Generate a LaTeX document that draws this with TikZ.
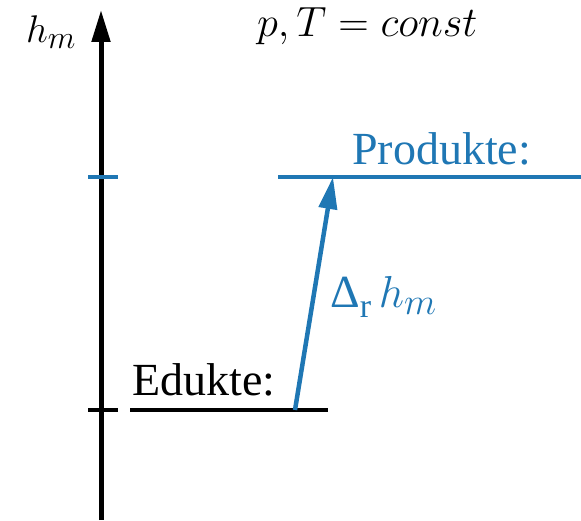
\documentclass[tikz,border=0pt]{standalone}
\usepackage{graphicx}
\usepackage{fontspec}
\setmainfont{Liberation Serif}
\usetikzlibrary{arrows.meta}
\definecolor{reactblue}{RGB}{31,119,180}
\newcommand{\lowidx}[1]{\raisebox{-0.45ex}{\fontsize{34}{40}\selectfont #1}}
\newcommand{\bigmath}[2][1.7]{\scalebox{#1}{\fontsize{24.88}{30}\selectfont$#2$}}

\begin{document}
\begin{tikzpicture}[x=1pt, y=1pt,
    >={Triangle[length=32pt,width=18pt]},
    axisline/.style={line width=5pt},
    level/.style={line width=4.5pt},
    lbl/.style={font=\fontsize{46}{55}\selectfont, inner sep=0pt, anchor=base west},
]
\useasboundingbox (0,0) rectangle (581,520);
% axis
\coordinate (ax0) at (101,0);
\coordinate (ax1) at (101,510);
\draw[axisline, ->] (ax0) -- (ax1);
\node[lbl] (hm) at (26,477) {\bigmath[1.55]{h_m}};
\node[lbl] (cond) at (257,483) {\bigmath{p,T = const}};
% ticks
\coordinate (tb0) at (88,110); \coordinate (tb1) at (118,110);
\coordinate (tp0) at (88,343); \coordinate (tp1) at (118,343);
\draw[level] (tb0) -- (tb1);
\draw[level, reactblue] (tp0) -- (tp1);
% levels
\coordinate (ed0) at (130,110); \coordinate (ed1) at (328,110);
\coordinate (pr0) at (278,343); \coordinate (pr1) at (581,343);
\draw[level] (ed0) -- (ed1);
\draw[level, reactblue] (pr0) -- (pr1);
\node[lbl] (edukte) at (132,125) {Edukte:};
\node[lbl, text=reactblue] (produkte) at (352,355) {Produkte:};
% reaction enthalpy
\coordinate (rs) at (295,110);
\coordinate (re) at (333,343);
\draw[reactblue, line width=4.5pt, ->] (rs) -- (re);
\node[lbl, text=reactblue] (drh) at (330,212) {Δ\lowidx{r}\,\bigmath[1.8]{h_m}};
\end{tikzpicture}
\end{document}
